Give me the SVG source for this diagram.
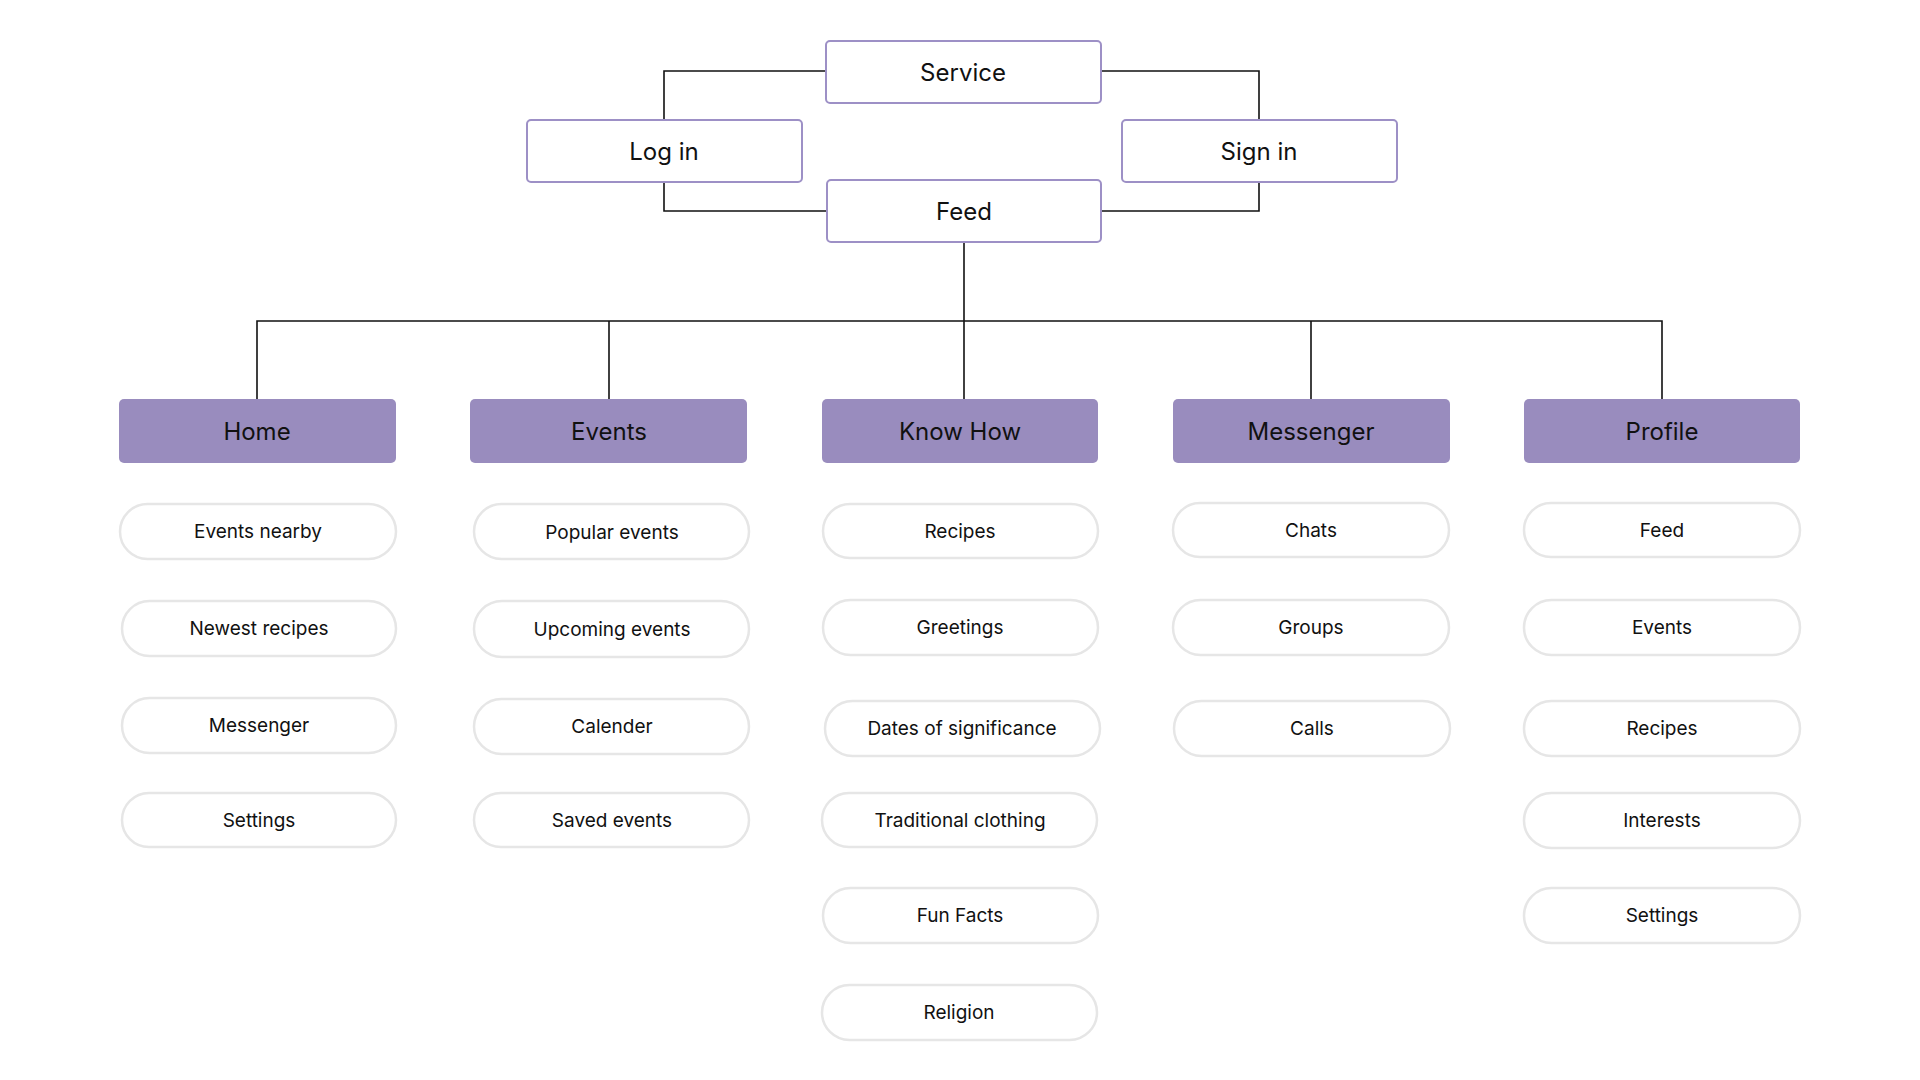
<svg xmlns="http://www.w3.org/2000/svg" width="1920" height="1080" viewBox="0 0 1920 1080">
<style>
.top rect{fill:#fff;stroke:#9D90C6;stroke-width:2}
.top text{font-family:Inter,"Liberation Sans",sans-serif;font-size:24px;fill:#111;text-anchor:middle;dominant-baseline:central}
.cat rect{fill:#998CBE}
.cat text{font-family:Inter,"Liberation Sans",sans-serif;font-size:24px;fill:#111;text-anchor:middle;dominant-baseline:central}
.item rect{fill:#fff;stroke:#E6E6E6;stroke-width:2.5}
.item text{font-family:Inter,"Liberation Sans",sans-serif;font-size:19px;fill:#111;text-anchor:middle;dominant-baseline:central}
.conn path{fill:none;stroke:#111;stroke-width:1.6}
</style>
<rect width="1920" height="1080" fill="#fff"/>
<g class="conn">
<path d="M826 71 H664 V119"/>
<path d="M1101 71 H1259 V119"/>
<path d="M664 182 V211 H827"/>
<path d="M1259 182 V211 H1101"/>
<path d="M964 242 V399"/>
<path d="M257 399 V321 H1662 V399"/>
<path d="M609 321 V399"/>
<path d="M1311 321 V399"/>
</g>
<g class="top">
<g id="service"><rect x="826" y="41" width="275" height="62" rx="4"/><text x="963" y="72">Service</text></g>
<g id="login"><rect x="527" y="120" width="275" height="62" rx="4"/><text x="664" y="151">Log in</text></g>
<g id="signin"><rect x="1122" y="120" width="275" height="62" rx="4"/><text x="1259" y="151">Sign in</text></g>
<g id="feed"><rect x="827" y="180" width="274" height="62" rx="4"/><text x="964" y="211">Feed</text></g>
</g>
<g class="cat">
<g id="home"><rect x="119" y="399" width="277" height="64" rx="5"/><text x="257" y="431">Home</text></g>
<g id="events"><rect x="470" y="399" width="277" height="64" rx="5"/><text x="609" y="431">Events</text></g>
<g id="knowhow"><rect x="822" y="399" width="276" height="64" rx="5"/><text x="960" y="431">Know How</text></g>
<g id="messenger"><rect x="1173" y="399" width="277" height="64" rx="5"/><text x="1311" y="431">Messenger</text></g>
<g id="profile"><rect x="1524" y="399" width="276" height="64" rx="5"/><text x="1662" y="431">Profile</text></g>
</g>
<g class="item">
<g id="home-1"><rect x="120" y="504" width="276" height="55" rx="27.5"/><text x="258" y="531">Events nearby</text></g>
<g id="home-2"><rect x="122" y="601" width="274" height="55" rx="27.5"/><text x="259" y="628">Newest recipes</text></g>
<g id="home-3"><rect x="122" y="698" width="274" height="55" rx="27.5"/><text x="259" y="725">Messenger</text></g>
<g id="home-4"><rect x="122" y="793" width="274" height="54" rx="27"/><text x="259" y="820">Settings</text></g>
<g id="events-1"><rect x="474" y="504" width="275" height="55" rx="27.5"/><text x="612" y="532">Popular events</text></g>
<g id="events-2"><rect x="474" y="601" width="275" height="56" rx="28"/><text x="612" y="629">Upcoming events</text></g>
<g id="events-3"><rect x="474" y="699" width="275" height="55" rx="27.5"/><text x="612" y="726">Calender</text></g>
<g id="events-4"><rect x="474" y="793" width="275" height="54" rx="27"/><text x="612" y="820">Saved events</text></g>
<g id="kh-1"><rect x="823" y="504" width="275" height="54" rx="27"/><text x="960" y="531">Recipes</text></g>
<g id="kh-2"><rect x="823" y="600" width="275" height="55" rx="27.5"/><text x="960" y="627">Greetings</text></g>
<g id="kh-3"><rect x="825" y="701" width="275" height="55" rx="27.5"/><text x="962" y="728">Dates of significance</text></g>
<g id="kh-4"><rect x="822" y="793" width="275" height="54" rx="27"/><text x="960" y="820">Traditional clothing</text></g>
<g id="kh-5"><rect x="823" y="888" width="275" height="55" rx="27.5"/><text x="960" y="915">Fun Facts</text></g>
<g id="kh-6"><rect x="822" y="985" width="275" height="55" rx="27.5"/><text x="959" y="1012">Religion</text></g>
<g id="msg-1"><rect x="1173" y="503" width="276" height="54" rx="27"/><text x="1311" y="530">Chats</text></g>
<g id="msg-2"><rect x="1173" y="600" width="276" height="55" rx="27.5"/><text x="1311" y="627">Groups</text></g>
<g id="msg-3"><rect x="1174" y="701" width="276" height="55" rx="27.5"/><text x="1312" y="728">Calls</text></g>
<g id="pr-1"><rect x="1524" y="503" width="276" height="54" rx="27"/><text x="1662" y="530">Feed</text></g>
<g id="pr-2"><rect x="1524" y="600" width="276" height="55" rx="27.5"/><text x="1662" y="627">Events</text></g>
<g id="pr-3"><rect x="1524" y="701" width="276" height="55" rx="27.5"/><text x="1662" y="728">Recipes</text></g>
<g id="pr-4"><rect x="1524" y="793" width="276" height="55" rx="27.5"/><text x="1662" y="820">Interests</text></g>
<g id="pr-5"><rect x="1524" y="888" width="276" height="55" rx="27.5"/><text x="1662" y="915">Settings</text></g>
</g>
</svg>
